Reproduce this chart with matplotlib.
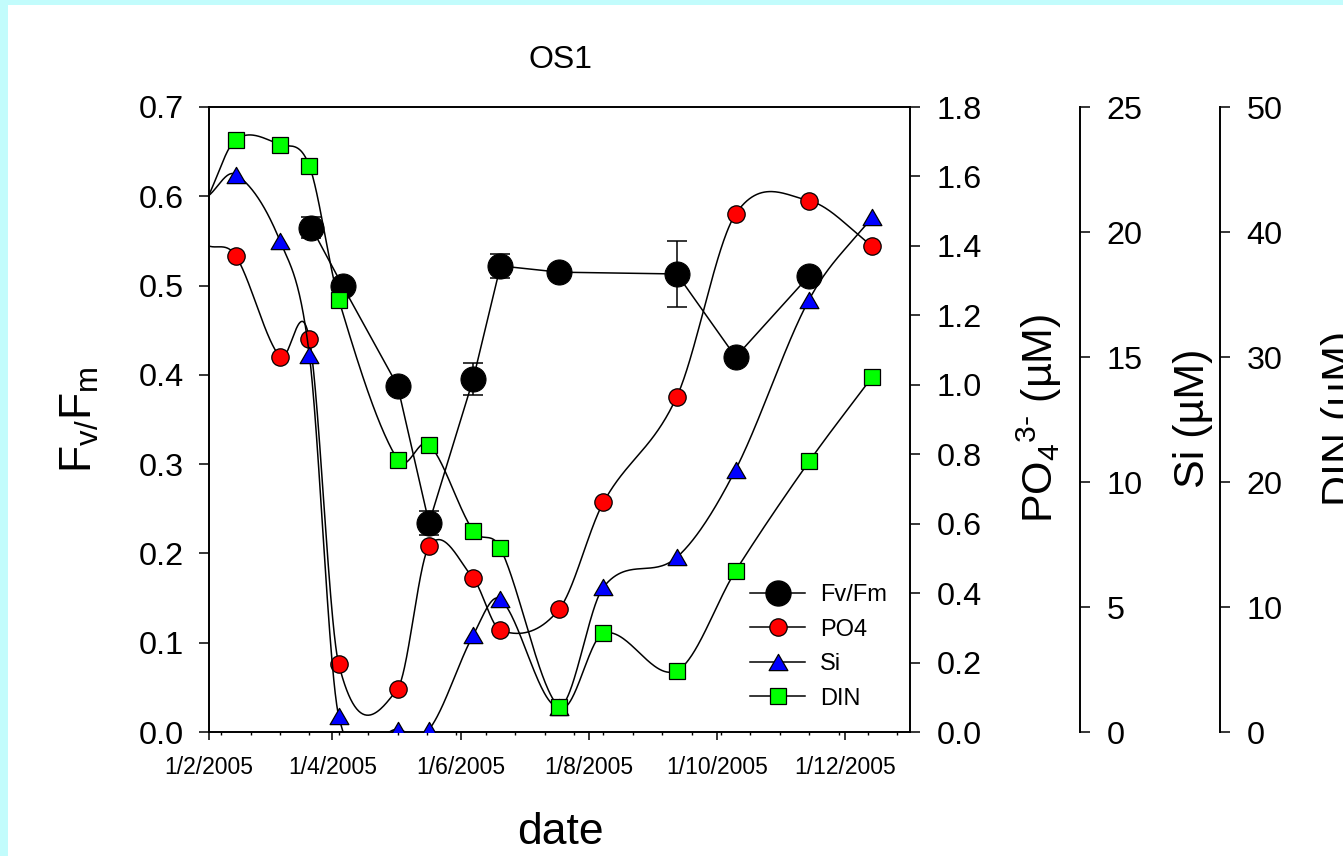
import numpy as np
import pandas as pd
import matplotlib
matplotlib.use("Agg")
import matplotlib.pyplot as plt
import matplotlib.dates as mdates
from matplotlib.ticker import FixedLocator, FuncFormatter, MultipleLocator
from matplotlib.patches import Rectangle
from matplotlib.lines import Line2D
from matplotlib.path import Path

plt.rcParams['font.family'] = ['Liberation Sans', 'DejaVu Sans']
plt.rcParams['mathtext.fontset'] = 'custom'
plt.rcParams['mathtext.rm'] = 'Liberation Sans'
plt.rcParams['mathtext.it'] = 'Liberation Sans'
plt.rcParams['mathtext.bf'] = 'Liberation Sans:bold'

# ---------------- data ----------------
fv_dates = ['2005-03-22', '2005-04-06', '2005-05-02', '2005-05-17', '2005-06-07',
            '2005-06-20', '2005-07-18', '2005-09-12', '2005-10-10', '2005-11-14']
fv_values = [0.565, 0.499, 0.388, 0.234, 0.395, 0.522, 0.515, 0.513, 0.420, 0.511]
fv_err = [0.012, 0.0, 0.0, 0.013, 0.018, 0.013, 0.0, 0.037, 0.0, 0.0]

nut_dates = ['2005-02-14', '2005-03-07', '2005-03-21', '2005-04-04', '2005-05-02',
             '2005-05-17', '2005-06-07', '2005-06-20', '2005-07-18', '2005-08-08',
             '2005-09-12', '2005-10-10', '2005-11-14', '2005-12-14']
po4_values = [1.371, 1.081, 1.133, 0.196, 0.124, 0.535, 0.443, 0.293, 0.354,
              0.661, 0.966, 1.492, 1.530, 1.400]
si_values = [22.3, 19.65, 15.1, 0.64, 0.1, 0.1, 3.87, 5.31, 1.0, 5.79, 6.99,
             10.5, 17.3, 20.6]
din_values = [47.4, 47.0, 45.3, 34.6, 21.8, 23.0, 16.1, 14.7, 2.0, 7.9, 4.9,
              12.9, 21.65, 28.4]

# values of the curves where they enter the plot at the left edge
start_date = '2005-02-01'
po4_start = 1.40
si_start = 21.45
din_start = 42.9

x_start = '2005-02-01'
x_end = '2006-01-01'
major_months = [2, 4, 6, 8, 10, 12]
minor_first = '2005-02-07'

# ---------------- helpers ----------------
W, H = 1343, 856


def px(x):
    return x / W


def py(y):
    return 1 - y / H


def to_num(d):
    return mdates.date2num(pd.to_datetime(d).to_pydatetime())


def smooth_curve(x, y, n=60):
    """Hermite curve through the points with finite-difference tangents."""
    x = np.asarray(x, float)
    y = np.asarray(y, float)
    k = len(x)
    m = np.empty(k)
    m[0] = (y[1] - y[0]) / (x[1] - x[0])
    m[-1] = (y[-1] - y[-2]) / (x[-1] - x[-2])
    m[1:-1] = (y[2:] - y[:-2]) / (x[2:] - x[:-2])
    xs_all, ys_all = [], []
    for i in range(k - 1):
        h = x[i + 1] - x[i]
        t = np.linspace(0, 1, n)
        h00 = 2 * t ** 3 - 3 * t ** 2 + 1
        h10 = t ** 3 - 2 * t ** 2 + t
        h01 = -2 * t ** 3 + 3 * t ** 2
        h11 = t ** 3 - t ** 2
        xs_all.append(x[i] + t * h)
        ys_all.append(h00 * y[i] + h10 * h * m[i] + h01 * y[i + 1] + h11 * h * m[i + 1])
    return np.concatenate(xs_all), np.concatenate(ys_all)


tri = Path([(-1, -0.866), (1, -0.866), (0, 0.866), (-1, -0.866)],
           [Path.MOVETO, Path.LINETO, Path.LINETO, Path.CLOSEPOLY])

fv_x = np.array([to_num(d) for d in fv_dates])
nut_x = np.array([to_num(d) for d in nut_dates])
x0 = to_num(start_date)

# ---------------- figure ----------------
fig = plt.figure(figsize=(W / 100, H / 100), dpi=100)
fig.patch.set_facecolor('#C2FCFC')
fig.add_artist(Rectangle((px(8), 0), 1 - px(8), py(5), transform=fig.transFigure,
                         facecolor='white', edgecolor='none', zorder=-10))

L, R, T, B = 208.5, 910, 107, 732
ax = fig.add_axes([px(L), py(B), (R - L) / W, (B - T) / H])
ax2 = ax.twinx()
ax3 = ax.twinx()
ax4 = ax.twinx()
ax3.spines['right'].set_position(('axes', (1080 - L) / (R - L)))
ax4.spines['right'].set_position(('axes', (1220 - L) / (R - L)))

spine_w = 1.4
for a in (ax, ax2, ax3, ax4):
    for s in a.spines.values():
        s.set_linewidth(spine_w)
ax.spines['right'].set_visible(False)
for a in (ax2, ax3, ax4):
    a.spines['top'].set_visible(False)
    a.spines['left'].set_visible(False)
    a.spines['bottom'].set_visible(False)

lw = 1.1
# Fv/Fm
ax.errorbar(fv_x, fv_values, yerr=fv_err, fmt='none', ecolor='black',
            elinewidth=lw, capsize=7.5, capthick=lw, zorder=2)
ax.plot(fv_x, fv_values, '-', color='black', lw=lw, zorder=2.5)
ax.plot(fv_x, fv_values, ls='none', marker='o', ms=18, mfc='black', mec='black',
        mew=0.8, zorder=3)

# nutrients
series = [
    (ax2, po4_start, po4_values, 'o', 12.5, '#FF0000'),
    (ax3, si_start, si_values, tri, 13.5, '#0000FF'),
    (ax4, din_start, din_values, 's', 11, '#00FF00'),
]
for a, s0, vals, mk, ms, col in series:
    xs, ys = smooth_curve(np.concatenate([[x0], nut_x]), np.concatenate([[s0], vals]))
    a.plot(xs, ys, color='black', lw=lw, zorder=2)
    a.plot(nut_x, vals, ls='none', marker=mk, ms=ms, mfc=col, mec='black',
           mew=0.9, zorder=3)

# limits
ax.set_xlim(to_num(x_start), to_num(x_end))
ax.set_ylim(0, 0.7)
ax2.set_ylim(0, 1.8)
ax3.set_ylim(0, 25)
ax4.set_ylim(0, 50)

# ticks
ax.xaxis.set_major_locator(mdates.MonthLocator(bymonth=major_months))
ax.xaxis.set_major_formatter(FuncFormatter(
    lambda v, p: f"{mdates.num2date(v).day}/{mdates.num2date(v).month}/{mdates.num2date(v).year}"))
minor = np.arange(to_num(minor_first), to_num(x_end), 14.0)
ax.xaxis.set_minor_locator(FixedLocator(minor))
ax.tick_params(axis='x', which='major', direction='out', length=6, width=1.1,
               labelsize=16.5, pad=11)
ax.tick_params(axis='x', which='minor', direction='out', length=2.5, width=1.0)
ax.yaxis.set_major_locator(MultipleLocator(0.1))
ax.yaxis.set_major_formatter(FuncFormatter(lambda v, p: f"{v:.1f}"))
ax.tick_params(axis='y', direction='out', length=7, width=1.1, labelsize=23.3, pad=11)
ax2.yaxis.set_major_locator(MultipleLocator(0.2))
ax2.yaxis.set_major_formatter(FuncFormatter(lambda v, p: f"{v:.1f}"))
ax3.yaxis.set_major_locator(MultipleLocator(5))
ax4.yaxis.set_major_locator(MultipleLocator(10))
for a in (ax2, ax3, ax4):
    a.tick_params(axis='y', direction='out', length=7, width=1.1, labelsize=23.3, pad=12)

# labels
fig.text(px(560), py(68), 'OS1', ha='center', va='baseline', fontsize=23)
fig.text(px(560), py(844), 'date', ha='center', va='baseline', fontsize=32)
fig.text(px(80), py(420), r'F$_{v/}$F$_{m}$', rotation=90, ha='center', va='center',
         fontsize=32)
fig.text(px(1039), py(418), 'PO$_4{}^{3\u2010}$ (µM)', rotation=90,
         ha='center', va='center', fontsize=31)
fig.text(px(1193), py(418), 'Si (µM)', rotation=90, ha='center', va='center', fontsize=31)
fig.text(px(1341), py(418), 'DIN (µM)', rotation=90, ha='center', va='center', fontsize=31)

# legend
handles = [
    Line2D([], [], color='black', lw=lw, marker='o', ms=18, mfc='black', mec='black'),
    Line2D([], [], color='black', lw=lw, marker='o', ms=12.5, mfc='#FF0000', mec='black', mew=0.9),
    Line2D([], [], color='black', lw=lw, marker=tri, ms=13.5, mfc='#0000FF', mec='black', mew=0.9),
    Line2D([], [], color='black', lw=lw, marker='s', ms=11, mfc='#00FF00', mec='black', mew=0.9),
]
leg = ax4.legend(handles, ['Fv/Fm', 'PO4', 'Si', 'DIN'], loc='upper left',
                 bbox_to_anchor=(px(750), py(584)), bbox_transform=fig.transFigure,
                 frameon=False, fontsize=17, handlelength=2.35, handletextpad=0.6,
                 labelspacing=0.53, borderpad=0, borderaxespad=0)

fig.savefig('out.png', dpi=100, facecolor=fig.get_facecolor())
